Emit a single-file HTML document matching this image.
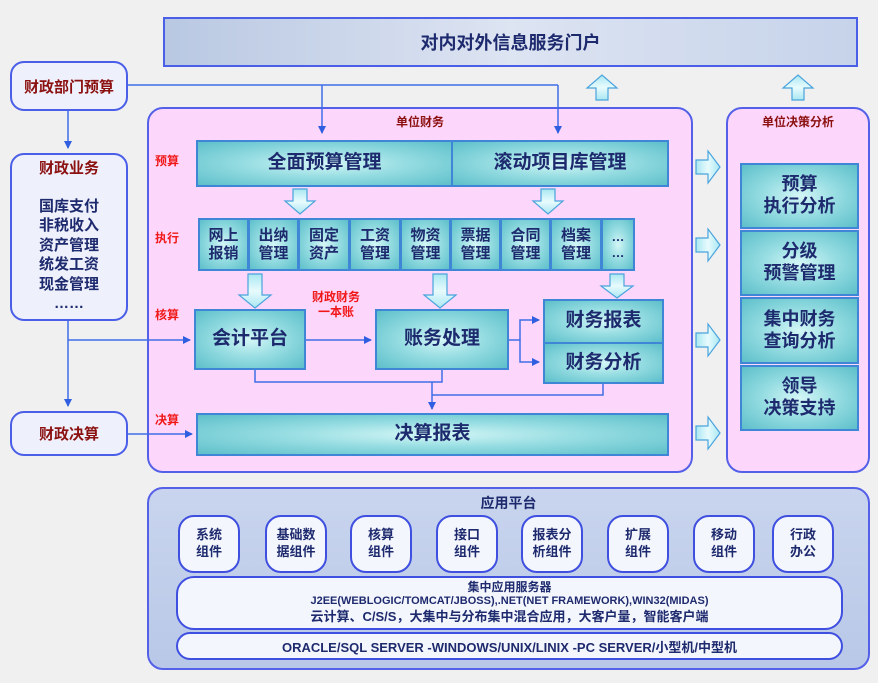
<!DOCTYPE html>
<html><head><meta charset="utf-8"><style>
*{margin:0;padding:0;box-sizing:border-box}
body{width:878px;height:683px;background:#f0f0f0;position:relative;overflow:hidden;font-family:"Liberation Sans","Noto Sans CJK SC",sans-serif;font-weight:bold}
.a{position:absolute}
.t{position:absolute;display:flex;align-items:center;justify-content:center;text-align:center;color:#1e2a6e;border:2px solid #3f86d6;background:radial-gradient(ellipse at center,#d4f6f6 0%,#96dde2 45%,#5dbfca 100%);line-height:1.2}
.rb{position:absolute;border:2px solid #4a5ee8;border-radius:14px;background:#eef0fb;display:flex;align-items:center;justify-content:center;text-align:center;color:#1e2a6e}
.red{position:absolute;color:#f01818;font-size:12px}
.bub{position:absolute;top:515px;width:62px;height:58px;border:2px solid #3f4fe0;border-radius:16px;background:#f4f6fd;display:flex;align-items:center;justify-content:center;text-align:center;color:#1e2a6e;font-size:13px;line-height:1.3}
</style></head><body>
<div class="a" style="left:163px;top:17px;width:695px;height:50px;border:2px solid #4a5ee8;background:linear-gradient(90deg,#b9c8e2,#dde4f2 50%,#c6d3ea);display:flex;align-items:center;justify-content:center;font-size:18px;color:#1e2a6e">对内对外信息服务门户</div>
<div class="a" style="left:147px;top:107px;width:546px;height:366px;border:2px solid #5560e8;border-radius:16px;background:#fdd6fb"></div>
<div class="a" style="left:726px;top:107px;width:144px;height:366px;border:2px solid #5560e8;border-radius:16px;background:#fdd6fb"></div>
<div class="a" style="left:147px;top:113px;width:546px;text-align:center;font-size:12px;color:#8b1010">单位财务</div>
<div class="a" style="left:726px;top:113px;width:144px;text-align:center;font-size:12px;color:#8b1010">单位决策分析</div>
<div class="rb" style="left:10px;top:61px;width:118px;height:50px;font-size:15px;color:#8b1010">财政部门预算</div>
<div class="rb" style="left:10px;top:153px;width:118px;height:168px;flex-direction:column;justify-content:flex-start;padding-top:4px;font-size:15px;line-height:1.3"><div style="color:#8b1010">财政业务</div><div style="margin-top:18px">国库支付<br>非税收入<br>资产管理<br>统发工资<br>现金管理<br>……</div></div>
<div class="rb" style="left:10px;top:411px;width:118px;height:45px;font-size:15px;color:#8b1010">财政决算</div>
<div class="red" style="left:155px;top:152px">预算</div>
<div class="red" style="left:155px;top:229px">执行</div>
<div class="red" style="left:155px;top:306px">核算</div>
<div class="red" style="left:155px;top:411px">决算</div>
<div class="red" style="left:312px;top:290px;text-align:center;line-height:1.25">财政财务<br>一本账</div>
<div class="t" style="left:196px;top:140px;width:257px;height:47px;font-size:19px">全面预算管理</div>
<div class="t" style="left:451px;top:140px;width:218px;height:47px;font-size:19px">滚动项目库管理</div>
<div class="t" style="left:198px;top:218px;width:51px;height:53px;font-size:15px">网上<br>报销</div>
<div class="t" style="left:248px;top:218px;width:51px;height:53px;font-size:15px">出纳<br>管理</div>
<div class="t" style="left:298px;top:218px;width:52px;height:53px;font-size:15px">固定<br>资产</div>
<div class="t" style="left:349px;top:218px;width:52px;height:53px;font-size:15px">工资<br>管理</div>
<div class="t" style="left:400px;top:218px;width:51px;height:53px;font-size:15px">物资<br>管理</div>
<div class="t" style="left:450px;top:218px;width:51px;height:53px;font-size:15px">票据<br>管理</div>
<div class="t" style="left:500px;top:218px;width:51px;height:53px;font-size:15px">合同<br>管理</div>
<div class="t" style="left:550px;top:218px;width:52px;height:53px;font-size:15px">档案<br>管理</div>
<div class="t" style="left:601px;top:218px;width:34px;height:53px;font-size:13px">…<br>…</div>
<div class="t" style="left:194px;top:309px;width:112px;height:61px;font-size:19px">会计平台</div>
<div class="t" style="left:375px;top:309px;width:134px;height:61px;font-size:19px">账务处理</div>
<div class="t" style="left:543px;top:299px;width:121px;height:45px;font-size:19px">财务报表</div>
<div class="t" style="left:543px;top:342px;width:121px;height:42px;font-size:19px">财务分析</div>
<div class="t" style="left:196px;top:413px;width:473px;height:43px;font-size:19px">决算报表</div>
<div class="t" style="left:740px;top:163px;width:119px;height:66px;font-size:18px">预算<br>执行分析</div>
<div class="t" style="left:740px;top:230px;width:119px;height:66px;font-size:18px">分级<br>预警管理</div>
<div class="t" style="left:740px;top:297px;width:119px;height:67px;font-size:18px">集中财务<br>查询分析</div>
<div class="t" style="left:740px;top:365px;width:119px;height:66px;font-size:18px">领导<br>决策支持</div>
<svg class="a" style="left:0;top:0" width="878" height="683">
<defs>
<linearGradient id="g" x1="0" x2="1"><stop offset="0" stop-color="#a9e7f2"/><stop offset="0.5" stop-color="#e8fbfd"/><stop offset="1" stop-color="#a9e7f2"/></linearGradient>
<linearGradient id="gv" x1="0" x2="0" y1="0" y2="1"><stop offset="0" stop-color="#a9e7f2"/><stop offset="0.5" stop-color="#e8fbfd"/><stop offset="1" stop-color="#a9e7f2"/></linearGradient>
<marker id="m" markerWidth="8" markerHeight="8" refX="7" refY="4" orient="auto" markerUnits="userSpaceOnUse"><path d="M0,0L8,4L0,8z" fill="#2f5fe0"/></marker>
</defs>
<g stroke="#3f6ee8" stroke-width="1.5" fill="none">
<path d="M128,85H558"/>
<path d="M322,85V133" marker-end="url(#m)"/>
<path d="M558,85V133" marker-end="url(#m)"/>
<path d="M68,111V148" marker-end="url(#m)"/>
<path d="M68,321V406" marker-end="url(#m)"/>
<path d="M68,340H190" marker-end="url(#m)"/>
<path d="M128,434H192" marker-end="url(#m)"/>
<path d="M306,340H371" marker-end="url(#m)"/>
<path d="M509,340H520V320H539" marker-end="url(#m)"/>
<path d="M520,340V362H539" marker-end="url(#m)"/>
<path d="M255,370V382H442V370"/>
<path d="M432,382V409" marker-end="url(#m)"/>
<path d="M603,384V395H432"/>
</g>
<g fill="url(#gv)" stroke="#4aa3dc" stroke-width="1.2">
<path d="M293,189h14v12h8l-15,13l-15,-13h8z"/>
<path d="M541,189h14v12h8l-15,13l-15,-13h8z"/>
<path d="M248,274h14v21h9l-16,13l-16,-13h9z"/>
<path d="M433,274h14v21h9l-16,13l-16,-13h9z"/>
<path d="M610,274h14v12h9l-16,12l-16,-12h9z"/>
<path d="M596,100v-12h-9l15,-13l15,13h-9v12z"/>
<path d="M792,100v-12h-9l15,-13l15,13h-9v12z"/>
</g>
<g fill="url(#g)" stroke="#4aa3dc" stroke-width="1.2">
<path d="M696,160h12v-9l12,16l-12,16v-9h-12z"/>
<path d="M696,238h12v-9l12,16l-12,16v-9h-12z"/>
<path d="M696,333h12v-9l12,16l-12,16v-9h-12z"/>
<path d="M696,426h12v-9l12,16l-12,16v-9h-12z"/>
</g>
</svg>
<div class="a" style="left:147px;top:487px;width:723px;height:183px;border:2px solid #5560e8;border-radius:16px;background:linear-gradient(#c9d5ee,#b9c8e8)"></div>
<div class="a" style="left:147px;top:493px;width:723px;text-align:center;font-size:14px;color:#1e2a6e">应用平台</div>
<div class="bub" style="left:178px">系统<br>组件</div>
<div class="bub" style="left:265px">基础数<br>据组件</div>
<div class="bub" style="left:350px">核算<br>组件</div>
<div class="bub" style="left:436px">接口<br>组件</div>
<div class="bub" style="left:521px">报表分<br>析组件</div>
<div class="bub" style="left:607px">扩展<br>组件</div>
<div class="bub" style="left:693px">移动<br>组件</div>
<div class="bub" style="left:772px">行政<br>办公</div>
<div class="a" style="left:176px;top:576px;width:667px;height:54px;border:2px solid #3f4fe0;border-radius:18px;background:#f4f6fd;text-align:center;color:#1e2a6e;line-height:1.25;padding-top:2px"><div style="font-size:12px">集中应用服务器</div><div style="font-size:11px">J2EE(WEBLOGIC/TOMCAT/JBOSS),.NET(NET FRAMEWORK),WIN32(MIDAS)</div><div style="font-size:13px">云计算、C/S/S，大集中与分布集中混合应用，大客户量，智能客户端</div></div>
<div class="a" style="left:176px;top:632px;width:667px;height:28px;border:2px solid #3f4fe0;border-radius:14px;background:#f4f6fd;display:flex;align-items:center;justify-content:center;font-size:13px;color:#1e2a6e">ORACLE/SQL SERVER -WINDOWS/UNIX/LINIX -PC SERVER/小型机/中型机</div>
</body></html>
